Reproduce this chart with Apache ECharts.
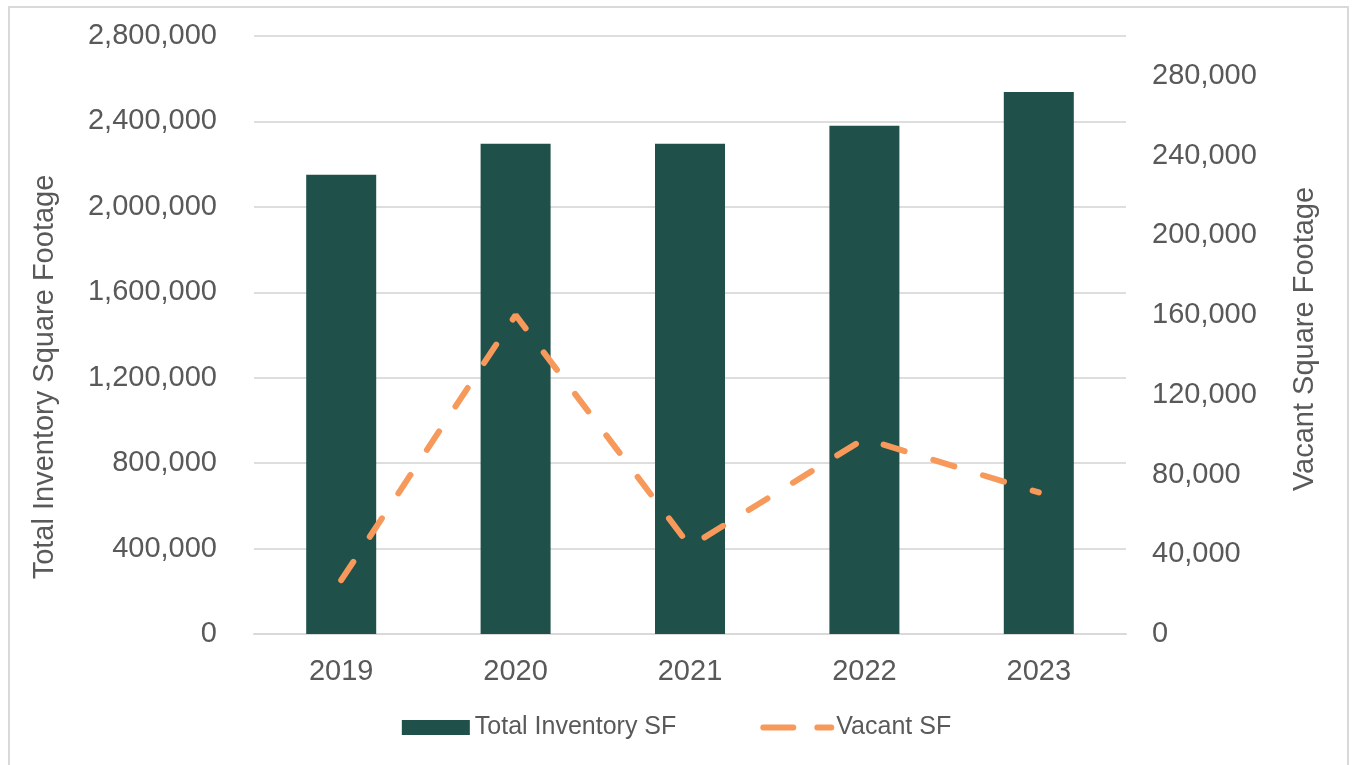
<!DOCTYPE html>
<html lang="en">

<head>
    <meta charset="UTF-8">
    <title>Total Inventory vs Vacant SF</title>
    <script src="https://cdn.jsdelivr.net/npm/echarts@6.0.0/dist/echarts.min.js"></script>
    <style>
        html, body { margin: 0; padding: 0; background: #fff; }
    </style>
</head>

<body>
    <div id="main" style="width: 1353px; height: 765px;"></div>

    <script type="text/javascript">
        // chart data
        const years = ['2019', '2020', '2021', '2022', '2023'];
        const totalInventorySF = [2150000, 2295000, 2295000, 2380000, 2538000];
        const vacantSF = [27000, 160000, 44000, 98000, 71000];

        const textColor = '#595959';
        const fontFamily = 'Liberation Sans, Arial, sans-serif';
        const fmt = v => Number(v).toLocaleString('en-US');

        let myChart = echarts.init(document.getElementById('main'));

        let options = {
            animation: false,
            textStyle: { fontFamily: fontFamily, color: textColor },
            grid: {
                left: 254,
                right: 227,
                top: 36,
                bottom: 131
            },
            legend: {
                bottom: 20,
                left: 'center',
                itemWidth: 68,
                itemHeight: 15,
                itemGap: 84,
                textStyle: { fontSize: 25, color: textColor, fontFamily: fontFamily },
                data: [
                    { name: 'Total Inventory SF', icon: 'rect' },
                    {
                        name: 'Vacant SF',
                        itemStyle: { opacity: 0 },
                        lineStyle: { width: 6, type: [30, 24], cap: 'round', color: '#f7995a' }
                    }
                ]
            },
            xAxis: {
                type: 'category',
                data: years,
                axisLine: { lineStyle: { color: '#d9d9d9', width: 2 } },
                axisTick: { show: false },
                axisLabel: { fontSize: 29, color: textColor, margin: 23 }
            },
            yAxis: [{
                type: 'value',
                min: 0,
                max: 2800000,
                interval: 400000,
                axisLine: { show: false },
                axisTick: { show: false },
                splitLine: { lineStyle: { color: '#dedede', width: 2 } },
                axisLabel: { fontSize: 29, color: textColor, margin: 37, formatter: fmt }
            }, {
                type: 'value',
                min: 0,
                max: 300000,
                interval: 40000,
                position: 'right',
                axisLine: { show: false },
                axisTick: { show: false },
                splitLine: { show: false },
                axisLabel: {
                    fontSize: 29, color: textColor, margin: 26,
                    showMaxLabel: false,
                    formatter: v => v > 280000 ? '' : fmt(v)
                }
            }],
            series: [{
                name: 'Total Inventory SF',
                type: 'bar',
                data: totalInventorySF,
                barWidth: 70,
                itemStyle: { color: '#1f5049' }
            }, {
                name: 'Vacant SF',
                type: 'line',
                yAxisIndex: 1,
                data: vacantSF,
                symbol: 'none',
                lineStyle: { color: '#f7995a', width: 6, type: [22, 30], cap: 'round' },
                itemStyle: { color: '#f7995a' }
            }],
            graphic: [{
                // light frame around the chart
                type: 'rect',
                shape: { x: 9, y: 7, width: 1339, height: 770 },
                style: { fill: 'none', stroke: '#d9d9d9', lineWidth: 2 },
                silent: true
            }, {
                type: 'text',
                x: 45,
                y: 377,
                rotation: Math.PI / 2,
                style: {
                    text: 'Total Inventory Square Footage',
                    fill: textColor,
                    font: '29px ' + fontFamily,
                    align: 'center',
                    verticalAlign: 'middle'
                }
            }, {
                type: 'text',
                x: 1305,
                y: 339,
                rotation: Math.PI / 2,
                style: {
                    text: 'Vacant Square Footage',
                    fill: textColor,
                    font: '29px ' + fontFamily,
                    align: 'center',
                    verticalAlign: 'middle'
                }
            }]
        };

        myChart.setOption(options);

        window.addEventListener('resize', () => {
            myChart.resize();
        });
    </script>
</body>

</html>
